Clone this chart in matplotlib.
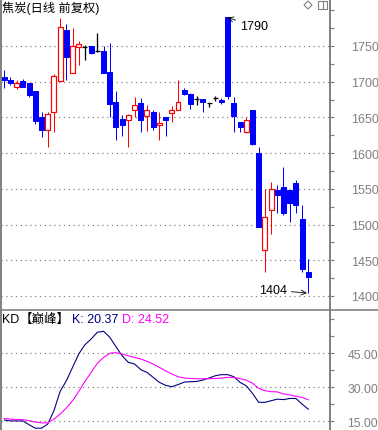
import numpy as np
import matplotlib
matplotlib.use('Agg')
import matplotlib.pyplot as plt
from matplotlib.patches import Rectangle, Polygon
from matplotlib.lines import Line2D
from matplotlib.ticker import MultipleLocator, FuncFormatter

plt.rcParams['font.family'] = ['Liberation Sans', 'Noto Sans CJK SC', 'DejaVu Sans']

# daily bars
opens = [1707, 1703, 1693, 1701, 1698, 1687, 1651, 1633, 1657, 1701,
         1772, 1712, 1748, 1749, 1750, 1743, 1743, 1713, 1672, 1648,
         1646, 1660, 1670, 1652, 1657, 1640, 1651, 1656, 1660, 1689,
         1683, 1676, 1676, 1670, 1677, 1675, 1790, 1670, 1643, 1630,
         1661, 1600, 1464, 1521, 1548, 1552, 1548, 1558, 1508, 1434]
highs = [1716, 1706, 1703, 1704, 1698, 1687, 1657, 1657, 1711, 1789,
         1781, 1775, 1757, 1751, 1750, 1768, 1750, 1754, 1687, 1653,
         1655, 1679, 1677, 1667, 1660, 1657, 1651, 1666, 1703, 1691,
         1684, 1680, 1676, 1670, 1680, 1677, 1790, 1678, 1643, 1650,
         1661, 1608, 1550, 1559, 1555, 1580, 1548, 1562, 1527, 1452]
lows = [1691, 1695, 1690, 1693, 1679, 1641, 1622, 1609, 1629, 1701,
        1703, 1712, 1724, 1730, 1739, 1741, 1712, 1650, 1618, 1624,
        1609, 1651, 1629, 1631, 1633, 1618, 1624, 1643, 1660, 1681,
        1662, 1668, 1657, 1664, 1673, 1669, 1676, 1629, 1629, 1628,
        1611, 1497, 1433, 1487, 1516, 1513, 1503, 1516, 1433, 1404]
closes = [1703, 1698, 1698, 1693, 1682, 1645, 1633, 1655, 1708, 1777,
          1734, 1750, 1753, 1749, 1740, 1743, 1712, 1669, 1637, 1640,
          1653, 1668, 1647, 1661, 1636, 1642, 1646, 1660, 1671, 1683,
          1669, 1676, 1671, 1670, 1677, 1671, 1680, 1652, 1636, 1646,
          1613, 1497, 1511, 1550, 1541, 1516, 1530, 1527, 1438, 1427]

k_vals = [15.6, 15.2, 15.2, 15.2, 13.5, 12.0, 12.0, 13.8, 19.7, 28.2,
          32.9, 38.8, 44.7, 48.8, 51.3, 54.3, 54.7, 52.1, 47.9, 43.9,
          41.0, 40.3, 37.8, 36.6, 34.4, 32.2, 30.9, 30.3, 31.2, 32.3,
          32.5, 32.6, 33.2, 34.1, 35.1, 35.6, 35.6, 34.7, 32.2, 30.7,
          27.4, 23.4, 23.4, 24.1, 24.8, 24.6, 25.1, 25.1, 22.6, 20.37]
d_vals = [16.3, 16.0, 15.8, 15.8, 15.3, 14.7, 14.3, 14.4, 16.0, 18.2,
          20.9, 24.1, 28.2, 32.6, 36.6, 40.6, 43.2, 45.0, 45.3, 44.7,
          43.9, 43.2, 42.5, 41.5, 40.3, 38.8, 37.3, 35.9, 34.7, 34.1,
          33.9, 33.8, 33.8, 33.8, 33.9, 34.1, 34.4, 34.4, 33.8, 33.2,
          31.8, 29.6, 28.5, 28.1, 28.0, 27.1, 26.7, 26.0, 25.6, 24.52]

price_ticks = [1400, 1450, 1500, 1550, 1600, 1650, 1700, 1750]
kd_ticks = [15, 30, 45]

W, H = 378, 431
fig = plt.figure(figsize=(W / 100, H / 100), dpi=100)
fig.patch.set_facecolor('white')

grey = '#808080'
up_c = '#FF0000'
dn_c = '#0000FF'
px = 0.72  # one pixel in points

ax = fig.add_axes([1 / W, 120 / H, 329 / W, 311 / H])
kd = fig.add_axes([1 / W, 0, 329 / W, 120 / H])

x = np.arange(len(opens))
bw = 0.8
for i in x:
    o, h, l, c = opens[i], highs[i], lows[i], closes[i]
    if c > o:
        ax.vlines(i, c, h, color=up_c, lw=px)
        ax.vlines(i, l, o, color=up_c, lw=px)
        ax.add_patch(Rectangle((i - bw / 2, o), bw, c - o, facecolor='white',
                               edgecolor=up_c, lw=px * 1.2))
    elif c < o:
        ax.vlines(i, l, h, color=dn_c, lw=px)
        ax.add_patch(Rectangle((i - bw / 2, c), bw, o - c, facecolor=dn_c,
                               edgecolor=dn_c, lw=px))
    else:
        ax.vlines(i, l, h, color='black', lw=px * 1.3)
        ax.hlines(o, i - bw / 2, i + bw / 2, color='black', lw=px * 1.3)

ax.set_xlim(-0.53, 52.5)
ax.set_ylim(1380.4, 1815.8)
for t in price_ticks:
    ax.axhline(t, color=grey, lw=px * 1.2, ls=(0, (1, 3)), zorder=0)

ax.annotate('1790', xy=(36, 1790), xytext=(12, -9), textcoords='offset pixels',
            ha='left', va='center', fontsize=9,
            arrowprops=dict(arrowstyle='->', lw=0.6, color='black', shrinkA=1, shrinkB=0))
ax.annotate('1404', xy=(49, 1404), xytext=(-21, 3), textcoords='offset pixels',
            ha='right', va='center', fontsize=9,
            arrowprops=dict(arrowstyle='->', lw=0.6, color='black', shrinkA=1, shrinkB=1))

# KD panel
kd.plot(x, k_vals, color='#000080', lw=px * 1.1)
kd.plot(x, d_vals, color='#FF00FF', lw=px * 1.1)
kd.set_xlim(-0.53, 52.5)
kd.set_ylim(11.2, 64.1)
for t in kd_ticks:
    kd.axhline(t, color=grey, lw=px * 1.2, ls=(0, (1, 3)), zorder=0)

for a, major, minor, fmt, fs, pad in [(ax, price_ticks, 25, '{:.0f}', 9, 12),
                                      (kd, kd_ticks, 7.5, '{:.2f}', 8.7, 9.5)]:
    a.set_xticks([])
    a.yaxis.tick_right()
    a.set_yticks(major)
    a.yaxis.set_minor_locator(MultipleLocator(minor))
    a.yaxis.set_major_formatter(FuncFormatter(lambda v, p, f=fmt: f.format(v)))
    a.tick_params(axis='y', which='both', direction='out', length=3, width=px * 1.2,
                  color=grey, labelcolor=grey, labelsize=fs, pad=pad)
    for s in ['top', 'bottom']:
        a.spines[s].set_visible(False)
    a.spines['right'].set_color(grey)
    a.spines['right'].set_linewidth(1.4)
    a.spines['left'].set_color(grey)
    a.spines['left'].set_linewidth(1.4)
    a.set_facecolor('white')

# separator between panels
fig.add_artist(Line2D([0, 1], [120 / H, 120 / H], color=grey, lw=1.2))

# titles
fig.text(2 / W, 1 - 8 / H, '焦炭(日线 前复权)', fontsize=8.8, va='center', ha='left')
ty = 1 - 320 / H
fig.text(2 / W, ty, 'KD', fontsize=9, va='center', color='black')
fig.text(20 / W, ty, '【巅峰】', fontsize=9, va='center', color='black')
fig.text(72 / W, ty, 'K: 20.37', fontsize=9, va='center', color='#000080')
fig.text(122 / W, ty, 'D: 24.52', fontsize=9, va='center', color='#FF00FF')

# small icons top right
def fpt(xp, yp):
    return (xp / W, 1 - yp / H)

fig.add_artist(Polygon([fpt(304, 6), fpt(308, 2), fpt(312, 6), fpt(308, 10)], closed=True,
                       fill=False, edgecolor=grey, lw=0.8, transform=fig.transFigure))
fig.add_artist(Rectangle(fpt(318, 10), 9 / W, 8 / H, fill=False, edgecolor=grey, lw=0.8,
                         transform=fig.transFigure))
fig.add_artist(Line2D([322.5 / W, 322.5 / W], [1 - 2 / H, 1 - 10 / H], color=grey, lw=0.8))

fig.savefig('out.png', dpi=100)
